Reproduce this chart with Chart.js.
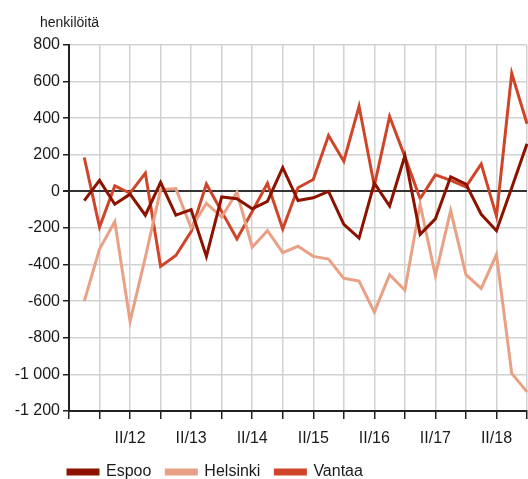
<!DOCTYPE html>
<html>
<head>
<meta charset="utf-8">
<script src="https://cdn.jsdelivr.net/npm/chart.js@4.4.1/dist/chart.umd.min.js"></script>
<style>
  html, body { margin: 0; padding: 0; background: #fff; }
</style>
</head>
<body>
<canvas id="kuvio" width="528" height="479"></canvas>
<script>
// neljännekset II/11 ... IV/18, ensimmäinen paikka on tyhjä (akselin alku)
const neljannekset = [
  'II/11', 'III/11', 'IV/11',
  'I/12', 'II/12', 'III/12', 'IV/12',
  'I/13', 'II/13', 'III/13', 'IV/13',
  'I/14', 'II/14', 'III/14', 'IV/14',
  'I/15', 'II/15', 'III/15', 'IV/15',
  'I/16', 'II/16', 'III/16', 'IV/16',
  'I/17', 'II/17', 'III/17', 'IV/17',
  'I/18', 'II/18', 'III/18', 'IV/18'
];

const espoo = [null, -50, 60, -70, -15, -130, 50, -130, -100, -355, -30, -40, -95, -55, 130, -50,
  -35, 0, -180, -255, 45, -80, 195, -235, -150, 80, 40, -125, -215, 20, 260];
const helsinki = [null, -600, -315, -165, -710, -360, 10, 15, -200, -65, -140, -5, -305, -215, -335, -300,
  -355, -370, -475, -490, -660, -455, -540, -70, -460, -105, -455, -530, -345, -995, -1095];
const vantaa = [null, 185, -195, 30, -10, 100, -410, -350, -220, 40, -110, -260, -110, 45, -205, 20,
  65, 305, 165, 465, 30, 410, 190, -40, 90, 60, 25, 150, -135, 645, 370];

const tekstiVari = '#1a1a1a';
const ruudukko = '#d2d2d2';
const fontti = { family: '"Liberation Sans", Arial, sans-serif', size: 16 };

function muotoile(v) {
  const s = Math.abs(v).toString().replace(/\B(?=(\d{3})+(?!\d))/g, ' ');
  return (v < 0 ? '-' : '') + s;
}

// yksikköteksti vasempaan yläkulmaan + selitteen siirto akselin kohdalle
const yksikko = {
  id: 'yksikko',
  afterLayout(chart) {
    if (chart.legend) {
      chart.legend.left += 53;
      chart.legend.right += 53;
      chart.legend.top += 2;
      chart.legend.bottom += 2;
    }
  },
  afterDraw(chart) {
    const ctx = chart.ctx;
    ctx.save();
    ctx.font = '14px "Liberation Sans", Arial, sans-serif';
    ctx.fillStyle = tekstiVari;
    ctx.textBaseline = 'middle';
    ctx.fillText('henkilöitä', 40, 23);
    ctx.restore();
  }
};

new Chart(document.getElementById('kuvio'), {
  type: 'line',
  data: {
    labels: neljannekset,
    datasets: [
      { label: 'Espoo', data: espoo, borderColor: '#8b1300', backgroundColor: '#8b1300' },
      { label: 'Helsinki', data: helsinki, borderColor: '#e9a186', backgroundColor: '#e9a186' },
      { label: 'Vantaa', data: vantaa, borderColor: '#cf4529', backgroundColor: '#cf4529' }
    ]
  },
  options: {
    responsive: false,
    animation: false,
    devicePixelRatio: 1,
    layout: { padding: { left: 0, right: 1, top: 45, bottom: -9 } },
    elements: {
      line: { borderWidth: 3, tension: 0 },
      point: { radius: 0 }
    },
    plugins: {
      legend: {
        position: 'bottom',
        align: 'start',
        labels: { boxWidth: 30, boxHeight: 4, padding: 15, color: tekstiVari, font: fontti }
      },
      tooltip: { enabled: false }
    },
    scales: {
      x: {
        offset: false,
        grid: {
          color: c => c.index % 2 === 0 ? ruudukko : 'transparent',
          tickColor: c => c.index % 2 === 0 ? '#222' : 'transparent',
          lineWidth: 1.5,
          tickLength: 8
        },
        border: { color: '#222', width: 2 },
        ticks: {
          autoSkip: false,
          maxRotation: 0,
          padding: 10,
          color: tekstiVari,
          font: fontti,
          callback: (v, i) => (i > 0 && i % 4 === 0) ? neljannekset[i] : ''
        },
        afterFit: s => {
          s.height = 36;
          s.paddingLeft = 0;
          s.paddingRight = 0;
        }
      },
      y: {
        min: -1200,
        max: 800,
        grid: {
          color: c => c.tick && c.tick.value === 0 ? '#333' : ruudukko,
          lineWidth: c => c.tick && c.tick.value === 0 ? 2 : 1.5,
          tickColor: '#222',
          tickLength: 6
        },
        border: { color: '#222', width: 2 },
        ticks: {
          stepSize: 200,
          padding: 3,
          color: tekstiVari,
          font: fontti,
          callback: v => muotoile(v)
        },
        afterFit: s => { s.width = 69; }
      }
    }
  },
  plugins: [yksikko]
});
</script>
</body>
</html>
